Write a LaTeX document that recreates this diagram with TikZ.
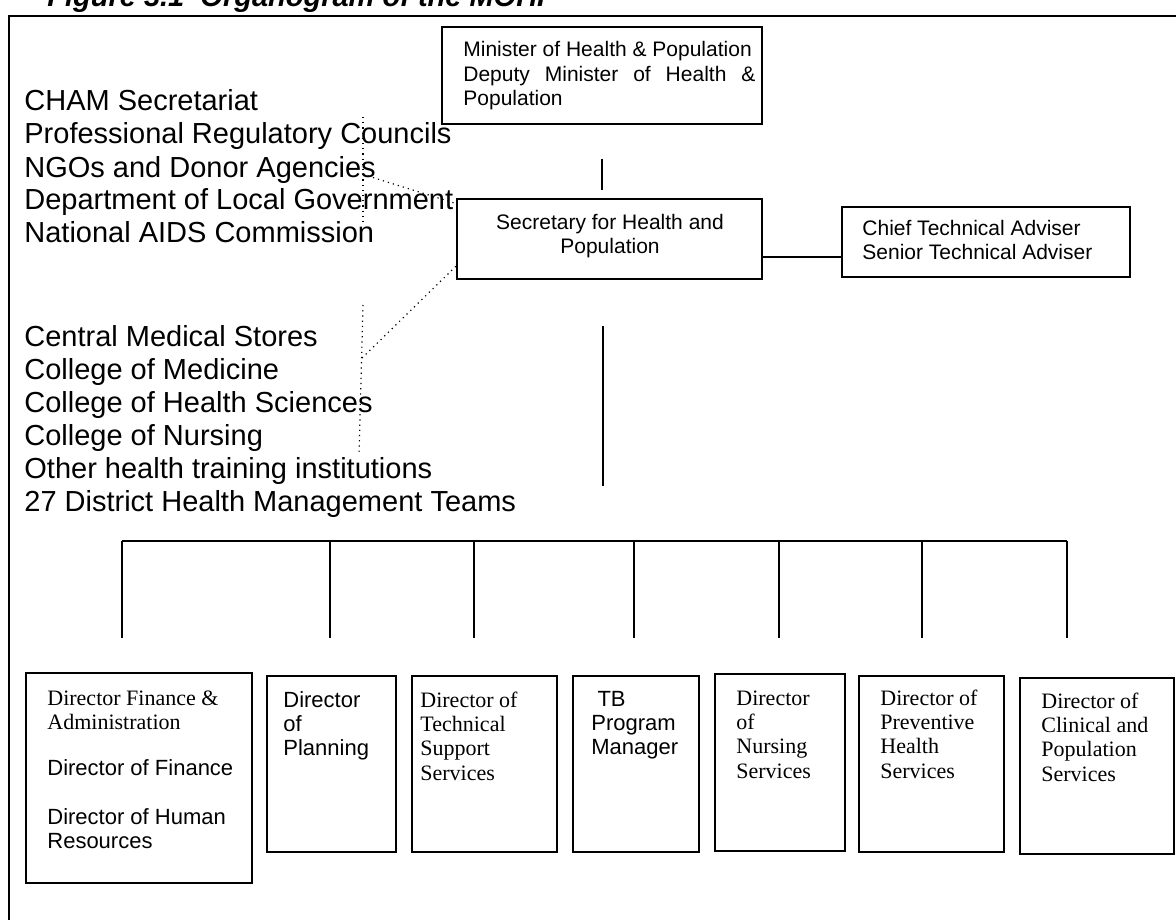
\documentclass[tikz,border=0pt]{standalone}
\usepackage{fontspec}
\setmainfont{Liberation Serif}
\setsansfont{Liberation Sans}
\usetikzlibrary{fit}
\newcommand{\lns}[1]{\begin{tabular}[t]{@{}l@{}}#1\end{tabular}}
\newcommand{\clns}[1]{\begin{tabular}[t]{@{}c@{}}#1\end{tabular}}

\begin{document}
\begin{tikzpicture}[x=0.5pt,y=-0.5pt,
  box/.style={draw,line width=0.9pt,inner sep=0pt},
  link/.style={line width=1pt},
  dots/.style={dotted,line width=0.6pt},
  lbl/.style={anchor=base west,inner sep=0pt,font=\sffamily\fontsize{10.5}{12.2}\selectfont},
  big/.style={lbl,font=\sffamily\fontsize{14.5}{16.5}\selectfont},
  rmlbl/.style={lbl,font=\rmfamily\fontsize{11}{12.2}\selectfont},
  sflbl/.style={lbl,font=\sffamily\fontsize{11}{12.2}\selectfont},
  caption/.style={lbl,font=\sffamily\bfseries\itshape\fontsize{14.5}{16}\selectfont}]
\useasboundingbox (0,0) rectangle (1176,920);
\draw[line width=1pt] (9,920) |- (1176,16);
\node[caption] (fig) at (47,7) {Figure 3.1~~Organogram of the MOHP};
\node[box,fit={(442,27) (762,124)}] (min) {};
\node[box,fit={(457,199) (762,279)}] (sec) {};
\node[box,fit={(842,207) (1130,277)}] (cta) {};
\node[lbl] (mint) at (463,57) {\lns{Minister of Health \& Population\\\makebox[146pt][s]{Deputy Minister of Health \&}\\Population}};
\node[lbl,anchor=base] (sect) at (610,229) {\clns{Secretary for Health and\\Population}};
\node[lbl] (ctat) at (862,235) {\lns{Chief Technical Adviser\\Senior Technical Adviser}};
\node[big] (links) at (24,111) {\lns{CHAM Secretariat\\Professional Regulatory Councils\\NGOs and Donor Agencies\\Department of Local Government\\National AIDS Commission}};
\node[big] (insts) at (24,346) {\lns{Central Medical Stores\\College of Medicine\\College of Health Sciences\\College of Nursing\\Other health training institutions\\27 District Health Management Teams}};
\coordinate (ua) at (363,117);
\coordinate (ub) at (363,222);
\coordinate (uc) at (368,176);
\coordinate (la) at (363,305);
\coordinate (lb) at (359,455);
\coordinate (lc) at (362,358);
\draw[dots] (ua) -- (ub);
\draw[dots] (uc) -- (sec.167);
\draw[dots] (la) -- (lb);
\draw[dots] (lc) -- (sec.190);
\draw[link] ([yshift=-17pt]min.south) -- ++(0,31);
\coordinate (sa) at (603,326);
\draw[link] (sa) -- ++(0,160);
\coordinate (tap) at (800,257);
\draw[link] (sec.east |- tap) -- (cta.west |- tap);
\coordinate (bl) at (122,541);
\coordinate (br) at (1067,541);
\draw[link] (bl) -- (br);
\foreach \x [count=\i] in {122,330,474,634,779,922,1067}
  {\coordinate (d\i) at (\x,541);
   \draw[link] (d\i) -- ++(0,97);}
\node[box,fit={(26,673) (252,883)}] (dfa) {};
\node[box,fit={(267,676) (396,852)}] (dpl) {};
\node[box,fit={(412,676) (557,852)}] (dts) {};
\node[box,fit={(573,676) (699,852)}] (tbm) {};
\node[box,fit={(715,674) (845,851)}] (dns) {};
\node[box,fit={(859,676) (1004,852)}] (dph) {};
\node[box,fit={(1020,678) (1174,854)}] (dcp) {};
\node[rmlbl] (dfat) at (47,705) {\lns{Director Finance \&\\Administration}};
\node[sflbl] (dfbt) at (47,775) {Director of Finance};
\node[sflbl] (dfct) at (47,824) {\lns{Director of Human\\Resources}};
\node[sflbl] (dplt) at (283,707) {\lns{Director\\of\\Planning}};
\node[rmlbl] (dtst) at (420,707) {\lns{Director of\\Technical\\Support\\Services}};
\node[sflbl] (tbmt) at (591,706) {\lns{\ TB\\Program\\Manager}};
\node[rmlbl] (dnst) at (736,705) {\lns{Director\\of\\Nursing\\Services}};
\node[rmlbl] (dpht) at (880,705) {\lns{Director of\\Preventive\\Health\\Services}};
\node[rmlbl] (dcpt) at (1041,708) {\lns{Director of\\Clinical and\\Population\\Services}};
\end{tikzpicture}
\end{document}
